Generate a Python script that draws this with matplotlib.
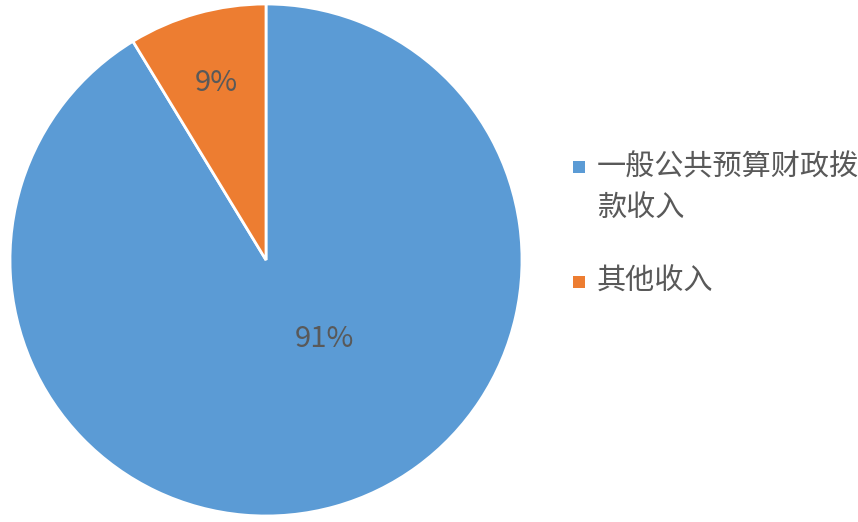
import matplotlib.pyplot as plt
from matplotlib.patches import Rectangle

plt.rcParams['font.family'] = ['Noto Sans CJK SC', 'DejaVu Sans']

# Data
labels = ['一般公共预算财政拨\n款收入', '其他收入']
values = [91.3, 8.7]
colors = ['#5B9BD5', '#ED7D31']
text_color = '#595959'

W, H = 858, 522
fig = plt.figure(figsize=(W / 100, H / 100), dpi=100)
ax = fig.add_axes([10 / W, 6 / H, 512 / W, 512 / H])

wedges, texts, autotexts = ax.pie(
    values, colors=colors, startangle=90, counterclock=False,
    autopct='%1.0f%%', radius=1.0,
    wedgeprops={'edgecolor': 'white', 'linewidth': 2},
    textprops={'fontsize': 21, 'color': text_color},
)
ax.set_xlim(-1, 1)
ax.set_ylim(-1, 1)
ax.set_aspect('equal')

# label positions like the original (Excel style)
autotexts[0].set_position((0.23, -0.31))
autotexts[1].set_position((-0.195, 0.69))

# legend drawn by hand: marker aligned with first line of each label
item_y = [167, 282]
line_gap = 41
for lab, col, y in zip(labels, colors, item_y):
    fig.patches.append(Rectangle(((573) / W, 1 - (y + 6) / H), 12 / W, 12 / H,
                                 transform=fig.transFigure, facecolor=col,
                                 edgecolor='none'))
    for i, line in enumerate(lab.split('\n')):
        fig.text(597 / W, 1 - (y + i * line_gap) / H, line, fontsize=21,
                 color=text_color, va='center', ha='left')

fig.savefig('out.png', dpi=100)
plt.close()
